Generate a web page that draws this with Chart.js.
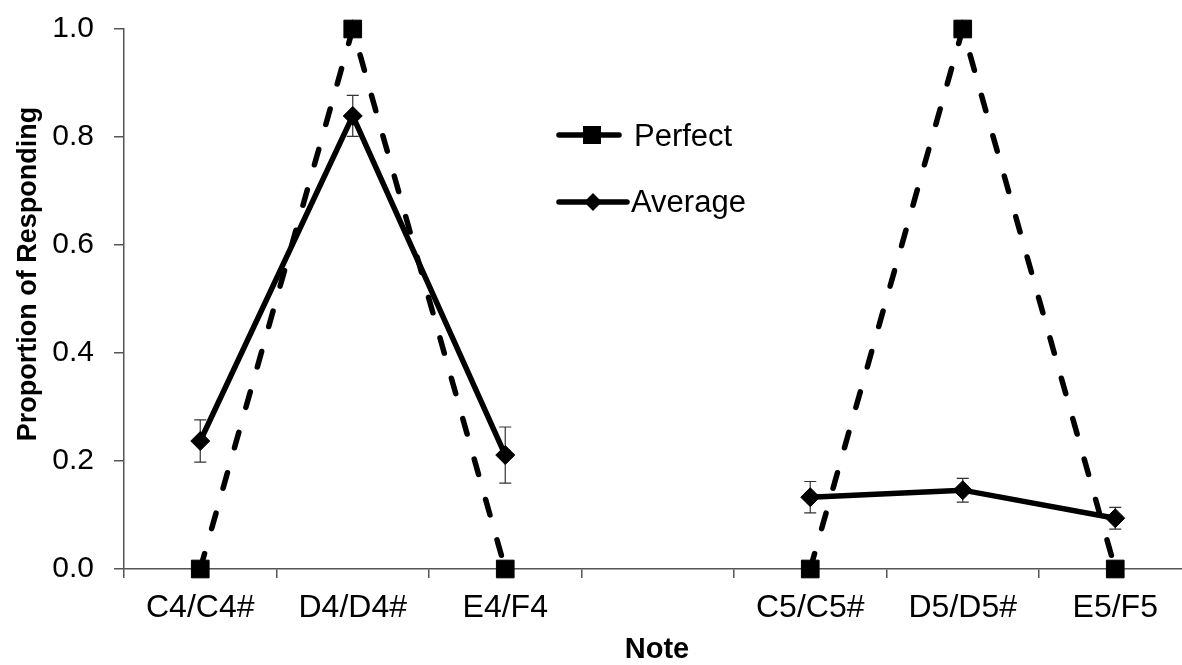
<!DOCTYPE html>
<html>
<head>
<meta charset="utf-8">
<script src="https://cdn.jsdelivr.net/npm/chart.js@4"></script>
<style>
  html, body { margin: 0; padding: 0; background: #fff; overflow: hidden; }
  #chart { display: block; }
</style>
</head>
<body>
<canvas id="chart" width="1205" height="665"></canvas>
<script>
const notes = ["C4/C4#", "D4/D4#", "E4/F4", "", "C5/C5#", "D5/D5#", "E5/F5"];
const perfect = [0, 1, 0, null, 0, 1, 0];
const average = [0.237, 0.839, 0.211, null, 0.133, 0.146, 0.094];
const averageErr = [0.039, 0.038, 0.052, null, 0.029, 0.022, 0.02];
const yTicks = [0, 0.2, 0.4, 0.6, 0.8, 1.0];

const FONT = "'Liberation Sans', Arial, sans-serif";
const AXIS = "#555";

// error bars under the Average markers
const errorBars = {
  id: "errorBars",
  beforeDatasetsDraw(chart) {
    const ctx = chart.ctx;
    const x = chart.scales.x;
    const y = chart.scales.y;
    ctx.save();
    ctx.strokeStyle = "#333";
    ctx.lineWidth = 1.2;
    average.forEach((v, i) => {
      if (v === null) return;
      const px = x.getPixelForValue(i);
      const top = y.getPixelForValue(v + averageErr[i]);
      const bot = y.getPixelForValue(v - averageErr[i]);
      ctx.beginPath();
      ctx.moveTo(px, top); ctx.lineTo(px, bot);
      ctx.moveTo(px - 6, top); ctx.lineTo(px + 6, top);
      ctx.moveTo(px - 6, bot); ctx.lineTo(px + 6, bot);
      ctx.stroke();
    });
    ctx.restore();
  }
};

// legend inside the plot and the two axis titles
const extras = {
  id: "extras",
  afterDraw(chart) {
    const ctx = chart.ctx;
    ctx.save();
    ctx.fillStyle = "#000";
    ctx.strokeStyle = "#000";
    ctx.lineWidth = 5.5;
    ctx.lineCap = "round";

    // Perfect
    ctx.beginPath(); ctx.moveTo(559, 135); ctx.lineTo(619, 135); ctx.stroke();
    ctx.fillRect(583, 126, 18, 18);
    // Average
    ctx.beginPath(); ctx.moveTo(559, 202); ctx.lineTo(627, 202); ctx.stroke();
    ctx.beginPath();
    ctx.moveTo(593, 193); ctx.lineTo(602, 202); ctx.lineTo(593, 211); ctx.lineTo(584, 202);
    ctx.closePath(); ctx.fill();

    ctx.font = "31px " + FONT;
    ctx.textAlign = "left";
    ctx.textBaseline = "middle";
    ctx.fillText("Perfect", 634, 137);
    ctx.fillText("Average", 631, 203);

    ctx.font = "bold 29px " + FONT;
    ctx.textAlign = "center";
    ctx.fillText("Note", 657, 650);

    ctx.translate(29, 274);
    ctx.rotate(-Math.PI / 2);
    ctx.font = "bold 27px " + FONT;
    ctx.fillText("Proportion of Responding", 0, 0);
    ctx.restore();
  }
};

new Chart(document.getElementById("chart"), {
  type: "line",
  data: {
    labels: notes,
    datasets: [
      {
        label: "Perfect",
        data: perfect,
        borderColor: "#000",
        backgroundColor: "#000",
        borderWidth: 5.5,
        borderDash: [16, 26],
        borderCapStyle: "round",
        pointStyle: "rect",
        pointRadius: 12.5,
        pointBorderWidth: 1,
        spanGaps: false,
        clip: false
      },
      {
        label: "Average",
        data: average,
        borderColor: "#000",
        backgroundColor: "#000",
        borderWidth: 5.5,
        pointStyle: "rectRot",
        pointRadius: 9.5,
        pointBorderWidth: 1,
        spanGaps: false,
        clip: false
      }
    ]
  },
  options: {
    responsive: false,
    animation: false,
    devicePixelRatio: 1,
    layout: { padding: { top: 29, right: 9, left: 0, bottom: 0 } },
    plugins: { legend: { display: false }, tooltip: { enabled: false } },
    scales: {
      x: {
        type: "category",
        offset: true,
        afterFit: (s) => { s.height = 96; s.paddingLeft = 0; s.paddingRight = 0; },
        grid: { display: true, offset: true, drawOnChartArea: false, tickLength: 9, color: AXIS, lineWidth: 1.5 },
        border: { color: AXIS, width: 1.5 },
        ticks: { color: "#000", font: { family: FONT, size: 32 }, padding: 11, maxRotation: 0, autoSkip: false }
      },
      y: {
        min: 0,
        max: 1,
        afterFit: (s) => { s.width = 124; s.paddingTop = 0; s.paddingBottom = 0; },
        afterBuildTicks: (s) => { s.ticks = yTicks.map((v) => ({ value: v })); },
        grid: { display: true, drawOnChartArea: false, tickLength: 10, color: AXIS, lineWidth: 1.5 },
        border: { color: AXIS, width: 1.5 },
        ticks: { color: "#000", font: { family: FONT, size: 30 }, padding: 20, callback: (v) => Number(v).toFixed(1) }
      }
    }
  },
  plugins: [errorBars, extras]
});
</script>
</body>
</html>
